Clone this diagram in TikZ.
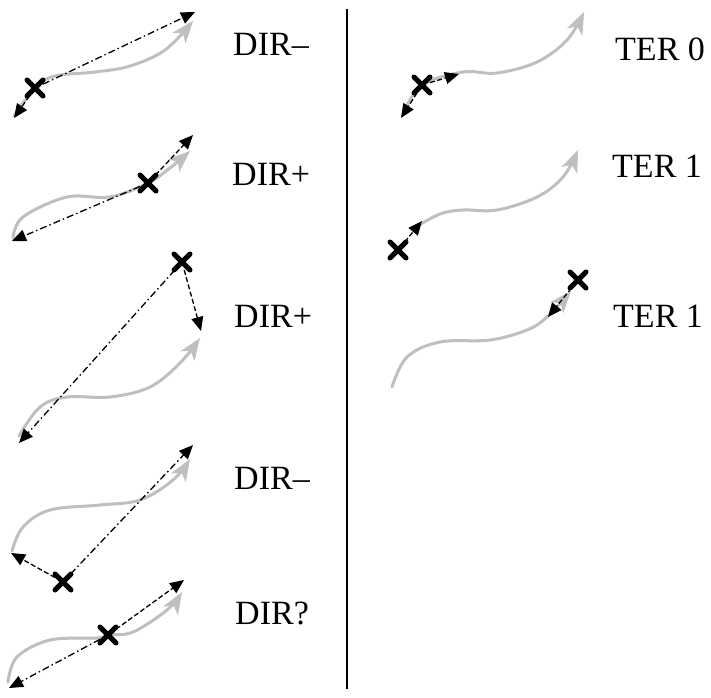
\documentclass[tikz,border=0pt]{standalone}
\usepackage{fontspec}
\setmainfont{Liberation Serif}
\usetikzlibrary{arrows.meta,shapes.misc}

\begin{document}
\begin{tikzpicture}[x=1pt,y=-1pt,
  every node/.style={inner sep=0pt},
  lbl/.style={anchor=base west,font=\fontsize{34}{40}\selectfont},
  traj/.style={draw=gray!50,line width=3pt,line cap=round,-{Stealth[length=22pt,width=17pt,inset=6pt,line width=0.8pt,fill=gray!50]}},
  farvec/.style={line width=1.3pt,dash pattern=on 7pt off 3pt on 1.5pt off 3pt,-{Triangle[length=14pt,width=12pt]}},
  nearvec/.style={line width=1.3pt,dash pattern=on 5pt off 2.5pt,-{Triangle[length=14pt,width=12pt]}},
  ptx/.style={cross out,draw,line width=5pt,line cap=round,minimum size=11pt}]
\useasboundingbox (0,0) rectangle (711,697);
\draw[line width=1.2pt] (347,9) -- (347,689);

% DIR- (top)
\draw[traj] plot[smooth,tension=0.6] coordinates {(14,116) (35,88) (55,76) (95,72) (130,66) (165,50) (193,21)};
\node[ptx] (X1) at (35,88) {};
\coordinate (S1) at (14,118);
\coordinate (E1) at (195,12);
\draw[nearvec] (X1) -- (S1);
\draw[farvec] (X1) -- (E1);
\node[lbl] (L1) at (233,55) {DIR--};

% DIR+
\draw[traj] plot[smooth,tension=0.6] coordinates {(13,238) (23,217) (67,197) (110,197) (148,183) (170,168) (190,151)};
\node[ptx] (X2) at (148,183) {};
\coordinate (S2) at (12,241);
\coordinate (E2) at (193,135);
\draw[farvec] (X2) -- (S2);
\draw[nearvec] (X2) -- (E2);
\node[lbl] (L2) at (232,185) {DIR+};

% DIR+ (point off the path)
\draw[traj] plot[smooth,tension=0.6] coordinates {(19,436) (40,407) (67,397) (110,397) (150,387) (180,363) (200,338)};
\node[ptx] (X3) at (182,262) {};
\coordinate (S3) at (19,443);
\coordinate (E3) at (201,331);
\draw[farvec] (X3) -- (S3);
\draw[nearvec] (X3) -- (E3);
\node[lbl] (L3) at (234,327) {DIR+};

% DIR- (point below)
\draw[traj] plot[smooth,tension=0.6] coordinates {(12,551) (23,527) (50,510) (100,505) (140,500) (173,480) (190,459)};
\node[ptx] (X4) at (63,582) {};
\coordinate (S4) at (11,553);
\coordinate (E4) at (193,445);
\draw[nearvec] (X4) -- (S4);
\draw[farvec] (X4) -- (E4);
\node[lbl] (L4) at (234,489) {DIR--};

% DIR?
\draw[traj] plot[smooth,tension=0.6] coordinates {(8,682) (17,657) (50,640) (97,638) (108,635) (133,632) (167,610) (182,592)};
\node[ptx] (X5) at (108,635) {};
\coordinate (S5) at (9,688);
\coordinate (E5) at (184,580);
\draw[farvec] (X5) -- (S5);
\draw[nearvec] (X5) -- (E5);
\node[lbl] (L5) at (235,624) {DIR?};

% TER 0
\draw[traj] plot[smooth,tension=0.6] coordinates {(404,112) (422,85) (463,72) (497,73) (537,62) (567,40) (584,12)};
\node[ptx] (X6) at (422,85) {};
\coordinate (S6) at (401,118);
\coordinate (E6) at (459,74);
\draw[nearvec] (X6) -- (S6);
\draw[nearvec] (X6) -- (E6);
\node[lbl] (L6) at (615,60) {TER 0};

% TER 1
\draw[traj] plot[smooth,tension=0.6] coordinates {(414,228) (440,214) (463,210) (497,210) (537,197) (563,177) (578,150)};
\node[ptx] (X7) at (398,250) {};
\coordinate (E7) at (422,221);
\draw[nearvec] (X7) -- (E7);
\node[lbl] (L7) at (612,177) {TER 1};

% TER 1 (point past the end)
\draw[traj] plot[smooth,tension=0.6] coordinates {(392,387) (407,357) (440,342) (490,340) (527,330) (547,317) (571,291)};
\node[ptx] (X8) at (578,280) {};
\coordinate (E8) at (548,317);
\draw[nearvec] (X8) -- (E8);
\node[lbl] (L8) at (613,327) {TER 1};
\end{tikzpicture}
\end{document}
